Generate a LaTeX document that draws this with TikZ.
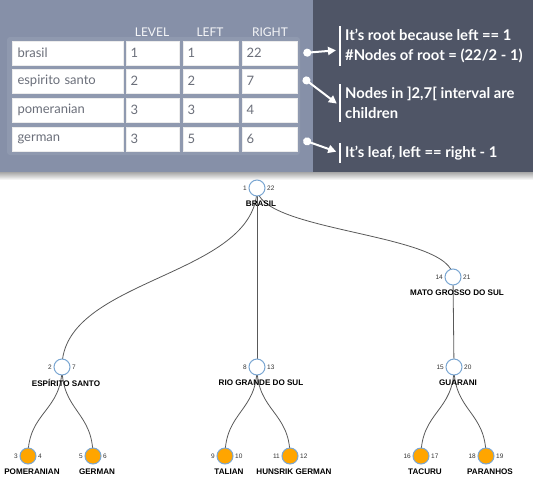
\documentclass[tikz,border=0pt]{standalone}
\usepackage{fontspec}
\setmainfont{Lato}
\newfontfamily\treefont{Liberation Sans}
\usepackage{tikz}
\usetikzlibrary{positioning,calc,arrows.meta,backgrounds}
\definecolor{panel}{HTML}{8690A8}
\definecolor{holder}{HTML}{8F99AF}
\definecolor{dark}{HTML}{4F5566}
\definecolor{celltext}{HTML}{6B6F7A}
\definecolor{ring}{HTML}{7AA6D2}
\definecolor{leaffill}{HTML}{FFA500}
\tikzstyle{cell}= [draw=white!85!gray, fill=white, line width=0.6pt, minimum height=24pt, inner sep=0pt, text=celltext, font=\fontsize{13}{15}\selectfont]
\tikzstyle{head}= [text=white!92!panel, font=\fontsize{12}{14}\selectfont]
\tikzstyle{note}= [text=white, align=left, anchor=west, inner xsep=5pt, inner ysep=3pt, font=\fontsize{14.8}{20}\selectfont\bfseries]
\tikzstyle{bar}= [white, line width=1.2pt]
\tikzstyle{pointer}= [white, line width=2pt, {Circle[length=8pt]}-{Triangle[length=8pt,width=8pt]}, shorten >=4pt]
\tikzstyle{inner}= [circle, draw=ring, fill=white, line width=1pt, inner sep=0pt, minimum size=16pt]
\tikzstyle{leaf}= [circle, draw=ring, fill=leaffill, line width=1pt, inner sep=0pt, minimum size=16pt]
\tikzstyle{num}= [font=\treefont\fontsize{6.5}{7}\selectfont, text=black!80, inner sep=1.5pt]
\tikzstyle{lab}= [font=\treefont\fontsize{8.1}{9}\selectfont\bfseries, inner sep=0pt, yshift=-4pt, xshift=4pt]
\tikzstyle{link}= [draw=black!65, line width=0.8pt]
\newcommand{\diag}[2]{\draw[link] let \p1=(#1.center), \p2=(#2.center) in (#1.center) .. controls (\x1,{(\y1+\y2)/2}) and (\x2,{(\y1+\y2)/2}) .. (#2.center);}
\begin{document}
\begin{tikzpicture}[x=1pt, y=-1pt]
	\useasboundingbox (0,0) rectangle (533,480);
	% top band
	\fill[top color=black!35, bottom color=white] (0,172) rectangle (533,180);
	\fill[panel] (0,0) rectangle (313,172);
	\fill[dark] (313,0) rectangle (533,172);
	\fill[holder, rounded corners=3pt] (7,37) rectangle (300,155);
	% table
	\node[head] (hlevel) at (152,32) {LEVEL};
	\node[head] (hleft) at (210,32) {LEFT};
	\node[head] (hright) at (270,32) {RIGHT};
	\node[cell, minimum width=111pt, text width=100pt] (c11) at (67.5,53) {brasil};
	\node[cell, minimum width=53pt, text width=44pt] (c12) at (152.5,53) {1};
	\node[cell, minimum width=55pt, text width=46pt] (c13) at (210.5,53) {1};
	\node[cell, minimum width=55pt, text width=46pt] (c14) at (269.5,53) {22};
	\node[cell, minimum width=111pt, text width=100pt] (c21) at (67.5,81) {espirito santo};
	\node[cell, minimum width=53pt, text width=44pt] (c22) at (152.5,81) {2};
	\node[cell, minimum width=55pt, text width=46pt] (c23) at (210.5,81) {2};
	\node[cell, minimum width=55pt, text width=46pt] (c24) at (269.5,81) {7};
	\node[cell, minimum width=111pt, text width=100pt] (c31) at (67.5,110) {pomeranian};
	\node[cell, minimum width=53pt, text width=44pt] (c32) at (152.5,110) {3};
	\node[cell, minimum width=55pt, text width=46pt] (c33) at (210.5,110) {3};
	\node[cell, minimum width=55pt, text width=46pt] (c34) at (269.5,110) {4};
	\node[cell, minimum width=111pt, text width=100pt] (c41) at (67.5,139) {german};
	\node[cell, minimum width=53pt, text width=44pt] (c42) at (152.5,139) {3};
	\node[cell, minimum width=55pt, text width=46pt] (c43) at (210.5,139) {5};
	\node[cell, minimum width=55pt, text width=46pt] (c44) at (269.5,139) {6};
	% notes
	\node[note] (n1) at (340,46) {It’s root because left == 1\\\#Nodes of root = (22/2 - 1)};
	\node[note] (n2) at (340,103) {Nodes in ]2,7[ interval are\\children};
	\node[note] (n3) at (340,153) {It’s leaf, left == right - 1};
	\draw[bar] (n1.north west) -- (n1.south west);
	\draw[bar] (n2.north west) -- (n2.south west);
	\draw[bar] (n3.north west) -- (n3.south west);
	\coordinate (d1) at ([xshift=6pt]c14.east);
	\coordinate (d2) at ([xshift=6pt,yshift=3pt]c24.east);
	\coordinate (d3) at ([xshift=6pt,yshift=-1pt]c44.east);
	\draw[pointer] (d1) -- ([yshift=-4pt]n1.west);
	\draw[pointer] (d2) -- ([yshift=-3pt]n2.west);
	\draw[pointer] (d3) -- (n3.west);
	% tree
	\node[inner, label={[num]left:1}, label={[num]right:22}, label={[lab]below:BRASIL}] (brasil) at (257,188) {};
	\node[inner, label={[num]left:2}, label={[num]right:7}, label={[lab]below:ESPÍRITO SANTO}] (espirito) at (62,367) {};
	\node[inner, label={[num]left:8}, label={[num]right:13}, label={[lab]below:RIO GRANDE DO SUL}] (riogrande) at (257,367) {};
	\node[inner, label={[num]left:14}, label={[num]right:21}, label={[lab]below:MATO GROSSO DO SUL}] (matogrosso) at (453,277) {};
	\node[inner, label={[num]left:15}, label={[num]right:20}, label={[lab]below:GUARANI}] (guarani) at (454,367) {};
	\node[leaf, label={[num]left:3}, label={[num]right:4}, label={[lab]below:POMERANIAN}] (pomeranian) at (28,456) {};
	\node[leaf, label={[num]left:5}, label={[num]right:6}, label={[lab]below:GERMAN}] (german) at (93,456) {};
	\node[leaf, label={[num]left:9}, label={[num]right:10}, label={[lab]below:TALIAN}] (talian) at (225,456) {};
	\node[leaf, label={[num]left:11}, label={[num]right:12}, label={[lab]below:HUNSRIK GERMAN}] (hunsrik) at (290,456) {};
	\node[leaf, label={[num]left:16}, label={[num]right:17}, label={[lab]below:TACURU}] (tacuru) at (421,456) {};
	\node[leaf, label={[num]left:18}, label={[num]right:19}, label={[lab]below:PARANHOS}] (paranhos) at (486,456) {};
	\begin{pgfonlayer}{background}
		\diag{brasil}{espirito}
		\diag{brasil}{riogrande}
		\diag{brasil}{matogrosso}
		\diag{matogrosso}{guarani}
		\diag{espirito}{pomeranian}
		\diag{espirito}{german}
		\diag{riogrande}{talian}
		\diag{riogrande}{hunsrik}
		\diag{guarani}{tacuru}
		\diag{guarani}{paranhos}
	\end{pgfonlayer}
\end{tikzpicture}
\end{document}
